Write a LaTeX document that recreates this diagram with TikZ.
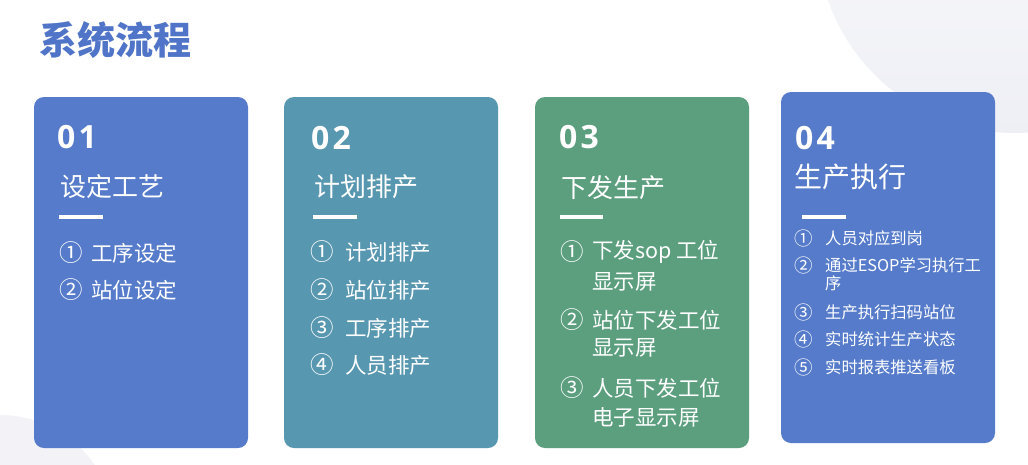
\documentclass[tikz,border=0pt]{standalone}
\usepackage{fontspec}
\setmainfont{Noto Sans CJK SC}
\newfontfamily\numfont{Open Sans}[LetterSpace=10]
\usetikzlibrary{shadings}
\definecolor{cblue}{HTML}{557BCA}
\definecolor{cteal}{HTML}{5897B0}
\definecolor{cgreen}{HTML}{5C9F7F}
\definecolor{ctitle}{HTML}{4F74C8}
\definecolor{bgcircA}{HTML}{EEEFF5}
\definecolor{bgcircB}{HTML}{F3F3F7}
\tikzset{
  card/.style={rounded corners=10pt},
  num/.style={anchor=west, inner sep=0pt, text=white, font=\numfont\bfseries\fontsize{32}{32}\selectfont},
  ctitle/.style={anchor=west, inner sep=0pt, text=white, font=\fontsize{26}{26}\selectfont},
  ctitlebig/.style={anchor=west, inner sep=0pt, text=white, font=\fontsize{28}{28}\selectfont},
  item/.style={anchor=west, inner sep=0pt, text=white, font=\fontsize{21.5}{21.5}\selectfont},
  itemcirc/.style={anchor=west, inner sep=0pt, text=white, font=\fontsize{23.5}{23.5}\selectfont},
  itemsmall/.style={anchor=west, inner sep=0pt, text=white, font=\fontsize{16.3}{16.3}\selectfont},
  itemsmallcirc/.style={anchor=west, inner sep=0pt, text=white, font=\fontsize{18.5}{18.5}\selectfont},
  bar/.style={draw=white, line width=3.2pt},
}
\begin{document}
\begin{tikzpicture}[x=1pt,y=-1pt]
\useasboundingbox (0,0) rectangle (1028,464);
\fill[white] (0,0) rectangle (1028,464);
% background circles
\begin{scope}
\clip (0,0) rectangle (1028,464);
\shade[top color=white, bottom color=bgcircA] (1015,-65) circle[radius=198];
\fill[bgcircB] (0,530) circle[radius=115];
\end{scope}
% title
\node[anchor=west, inner sep=0pt, text=ctitle, font=\bfseries\fontsize{38}{38}\selectfont] (title) at (39,40) {系统流程};
% cards
\fill[cblue, card] (34,97) rectangle (248,448);
\fill[cteal, card] (284,97) rectangle (498,448);
\fill[cgreen, card] (535,97) rectangle (749,448);
\fill[cblue, card] (781,92) rectangle (995,443);
% card 1
\node[num] (n1) at (57,137) {01};
\node[ctitle] (t1) at (60,187) {设定工艺};
\draw[bar] (59,217) -- (103,217);
\node[itemcirc] (c11) at (59,253) {①};
\node[item] (i11) at (91,253) {工序设定};
\node[itemcirc] (c12) at (59,290) {②};
\node[item] (i12) at (91,290) {站位设定};
% card 2
\node[num] (n2) at (311,138) {02};
\node[ctitle] (t2) at (314,187) {计划排产};
\draw[bar] (313,217) -- (357,217);
\node[itemcirc] (c21) at (310,252) {①};
\node[item] (i21) at (345,252) {计划排产};
\node[itemcirc] (c22) at (310,290) {②};
\node[item] (i22) at (345,290) {站位排产};
\node[itemcirc] (c23) at (310,328) {③};
\node[item] (i23) at (345,328) {工序排产};
\node[itemcirc] (c24) at (310,365) {④};
\node[item] (i24) at (345,365) {人员排产};
% card 3
\node[num] (n3) at (559,137) {03};
\node[ctitle] (t3) at (561,188) {下发生产};
\draw[bar] (560,217) -- (603,217);
\node[itemcirc] (c31) at (560,252) {①};
\node[item] (i31) at (592,252) {下发sop 工位};
\node[item] (i31b) at (592,282) {显示屏};
\node[itemcirc] (c32) at (560,320) {②};
\node[item] (i32) at (592,320) {站位下发工位};
\node[item] (i32b) at (592,348) {显示屏};
\node[itemcirc] (c33) at (560,388) {③};
\node[item] (i33) at (592,388) {人员下发工位};
\node[item] (i33b) at (592,417) {电子显示屏};
% card 4
\node[num] (n4) at (795,138) {04};
\node[ctitlebig] (t4) at (794,177) {生产执行};
\draw[bar] (802,217) -- (846,217);
\node[itemsmallcirc] (c41) at (794,238) {①};
\node[itemsmall] (i41) at (825,238) {人员对应到岗};
\node[itemsmallcirc] (c42) at (794,265) {②};
\node[itemsmall] (i42) at (825,265) {通过ESOP学习执行工};
\node[itemsmall] (i42b) at (825,283) {序};
\node[itemsmallcirc] (c43) at (794,312) {③};
\node[itemsmall] (i43) at (825,312) {生产执行扫码站位};
\node[itemsmallcirc] (c44) at (794,339) {④};
\node[itemsmall] (i44) at (825,339) {实时统计生产状态};
\node[itemsmallcirc] (c45) at (794,367) {⑤};
\node[itemsmall] (i45) at (825,367) {实时报表推送看板};
\end{tikzpicture}
\end{document}
